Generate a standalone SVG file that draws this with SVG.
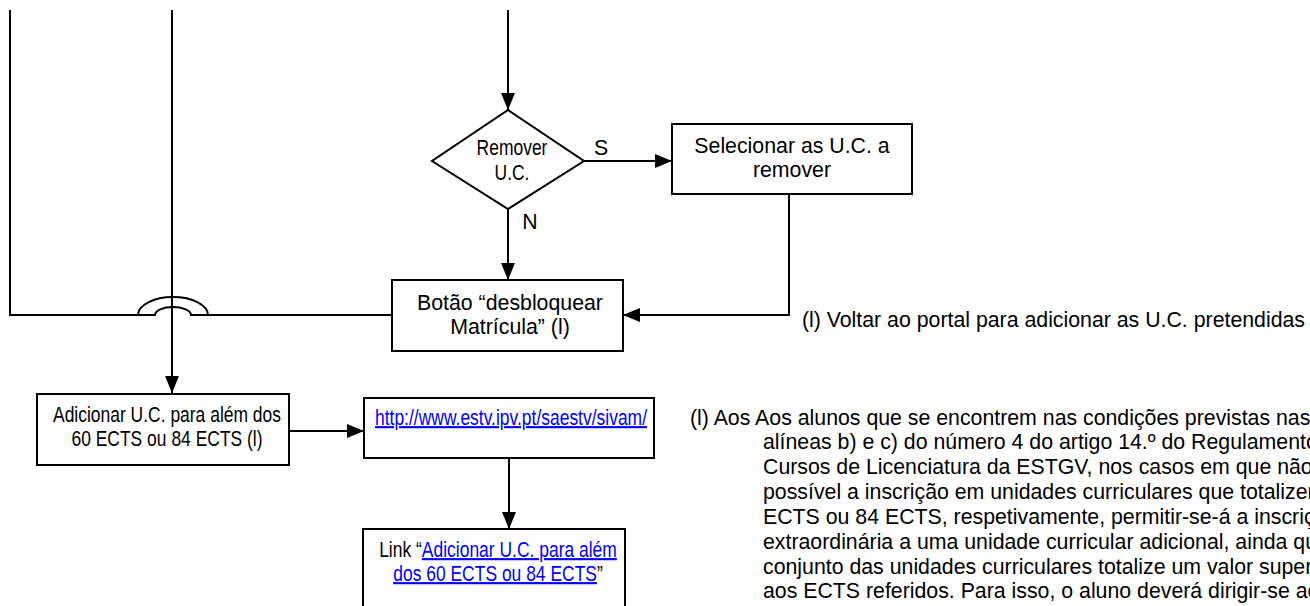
<svg xmlns="http://www.w3.org/2000/svg" width="1310" height="606" viewBox="0 0 1310 606">
<style>
.box{fill:#fff;stroke:#000;stroke-width:2}
.ln{fill:none;stroke:#000;stroke-width:2}
.t{font-family:"Liberation Sans",Arial,sans-serif;font-size:21.3px;fill:#000}
.n{font-family:"Liberation Sans",Arial,sans-serif;font-size:21.3px;fill:#000;text-anchor:middle}
.lk{fill:#0000ff;text-decoration:underline}
</style>
<defs>
<marker id="ar" markerUnits="userSpaceOnUse" markerWidth="17" markerHeight="14" refX="17" refY="7" orient="auto">
<path d="M0,0 L17,7 L0,14 z" fill="#000"/>
</marker>
</defs>
<g id="connectors">
<path class="ln" d="M10,10 V315 H138"/>
<path class="ln" d="M208,315 H392"/>
<path d="M138,315 A35,18 0 0 1 208,315 L191,315 A18,8 0 0 0 155,315 Z" fill="#fff" stroke="#000" stroke-width="2"/>
<path class="ln" d="M172,10 V393" marker-end="url(#ar)"/>
<path class="ln" d="M508,10 V110" marker-end="url(#ar)"/>
<path class="ln" d="M508,209 V280" marker-end="url(#ar)"/>
<path class="ln" d="M584,161 H672" marker-end="url(#ar)"/>
<path class="ln" d="M789,194 V315 H623" marker-end="url(#ar)"/>
<path class="ln" d="M289,431 H364" marker-end="url(#ar)"/>
<path class="ln" d="M509,458 V529" marker-end="url(#ar)"/>
<text class="t" x="601" y="155" text-anchor="middle">S</text>
<text class="t" x="530" y="229" text-anchor="middle">N</text>
</g>
<g id="decision">
<polygon class="box" points="508,110 584,161 508,209 432,161"/>
<text class="n" transform="translate(512,155) scale(0.82,1)">Remover</text>
<text class="n" transform="translate(512,180) scale(0.82,1)">U.C.</text>
</g>
<g id="selecionar">
<rect class="box" x="672" y="124" width="240" height="70"/>
<text class="t" x="792" y="153" text-anchor="middle">Selecionar as U.C. a</text>
<text class="t" x="792" y="177" text-anchor="middle">remover</text>
</g>
<g id="botao">
<rect class="box" x="392" y="280" width="231" height="71"/>
<text class="t" x="510" y="310" text-anchor="middle">Botão “desbloquear</text>
<text class="t" x="510" y="334" text-anchor="middle">Matrícula” (l)</text>
</g>
<g id="voltar">
<text class="t" x="1305" y="327" text-anchor="end">(l) Voltar ao portal para adicionar as U.C. pretendidas</text>
</g>
<g id="adicionar">
<rect class="box" x="37" y="394" width="252" height="71"/>
<text class="n" transform="translate(167,422) scale(0.82,1)">Adicionar U.C. para além dos</text>
<text class="n" transform="translate(167,446) scale(0.82,1)">60 ECTS ou 84 ECTS (l)</text>
</g>
<g id="url">
<rect class="box" x="364" y="398" width="290" height="60"/>
<text class="n lk" transform="translate(375,425) scale(0.82,1)" style="text-anchor:start">http://www.estv.ipv.pt/saestv/sivam/</text>
</g>
<g id="link">
<rect class="box" x="363" y="529" width="262" height="100"/>
<text class="n" transform="translate(498,557) scale(0.82,1)">Link “<tspan class="lk">Adicionar U.C. para além</tspan></text>
<text class="n" transform="translate(498,581) scale(0.82,1)"><tspan class="lk">dos 60 ECTS ou 84 ECTS</tspan>”</text>
</g>
<g id="nota">
<text class="t" x="690" y="425">(l) Aos Aos alunos que se encontrem nas condições previstas nas</text>
<text class="t" x="763" y="449">alíneas b) e c) do número 4 do artigo 14.º do Regulamento</text>
<text class="t" x="763" y="474">Cursos de Licenciatura da ESTGV, nos casos em que não</text>
<text class="t" x="763" y="499">possível a inscrição em unidades curriculares que totalizem</text>
<text class="t" x="763" y="524">ECTS ou 84 ECTS, respetivamente, permitir-se-á a inscrição</text>
<text class="t" x="763" y="549">extraordinária a uma unidade curricular adicional, ainda que</text>
<text class="t" x="763" y="574">conjunto das unidades curriculares totalize um valor superior</text>
<text class="t" x="763" y="598">aos ECTS referidos. Para isso, o aluno deverá dirigir-se ao</text>
</g>
</svg>
